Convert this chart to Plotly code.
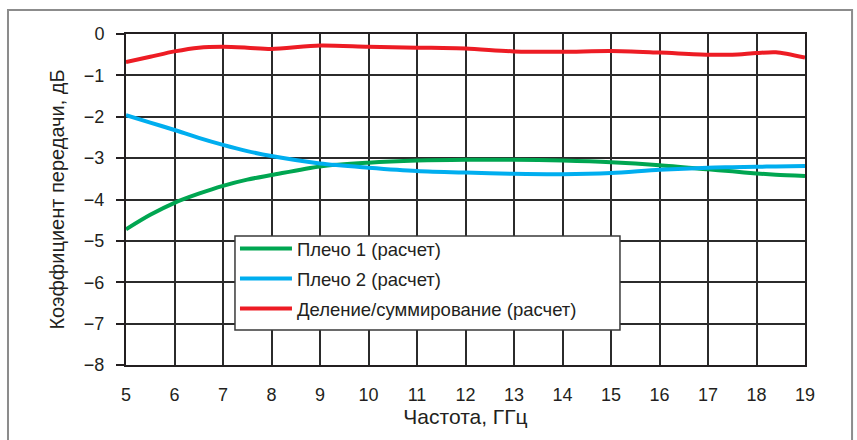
import plotly.graph_objects as go

freq = [5, 5.5, 6, 6.5, 7, 7.5, 8, 9, 10, 11, 12, 13, 14, 15, 16, 17, 17.5, 18, 18.4, 19]
arm1 = [-4.72, -4.37, -4.08, -3.86, -3.67, -3.52, -3.41, -3.20, -3.11, -3.06, -3.04, -3.04, -3.06, -3.10, -3.17, -3.27, -3.32, -3.37, -3.40, -3.43]
arm2 = [-1.96, -2.14, -2.32, -2.51, -2.68, -2.83, -2.95, -3.13, -3.23, -3.31, -3.35, -3.38, -3.39, -3.36, -3.28, -3.23, -3.22, -3.21, -3.20, -3.19]
divsum = [-0.68, -0.55, -0.42, -0.33, -0.31, -0.33, -0.36, -0.28, -0.31, -0.33, -0.35, -0.42, -0.43, -0.41, -0.45, -0.50, -0.50, -0.46, -0.44, -0.57]

names = ["Плечо 1 (расчет)", "Плечо 2 (расчет)", "Деление/суммирование (расчет)"]
colors = ["#00A651", "#00AEEF", "#ED1C24"]

x_ticks = list(range(5, 20))
y_ticks = list(range(-8, 1))

fig = go.Figure()
for i, (ys, nm, c) in enumerate(zip([arm1, arm2, divsum], names, colors)):
    fig.add_trace(go.Scatter(x=freq, y=ys, name=nm, mode="lines", legendgroup=f"g{i}",
                             line=dict(color=c, width=4, shape="spline", smoothing=0.8)))

font = "Liberation Sans, Arial, sans-serif"
fig.update_layout(
    width=857, height=440,
    margin=dict(l=126, r=52, t=34, b=75, autoexpand=False),
    paper_bgcolor="white", plot_bgcolor="white",
    font=dict(family=font, size=18, color="#231F20"),
    showlegend=True,
    legend=dict(x=0.1605, y=0.408, xanchor="left", yanchor="top",
                bgcolor="rgba(0,0,0,0)", borderwidth=0, bordercolor="rgba(0,0,0,0)",
                font=dict(size=18.5, family=font, color="#231F20"),
                itemwidth=52, tracegroupgap=3),
    shapes=[
        dict(type="rect", xref="paper", yref="paper",
             x0=-0.1738, x1=1.0693, y0=-0.25, y1=1.0725,
             line=dict(color="#8c8c8c", width=2), layer="below"),
        dict(type="rect", xref="paper", yref="paper",
             x0=0.1605, x1=0.7275, y0=0.1057, y1=0.3897,
             fillcolor="white", line=dict(color="#3a3a3a", width=1.5), layer="above"),
    ],
)
fig.update_xaxes(range=[5, 19], tickvals=x_ticks, showgrid=True, gridcolor="#2b2b2b", gridwidth=1.5,
                 showline=True, linecolor="#231F20", linewidth=2, mirror=True,
                 ticks="outside", ticklen=12, tickcolor="rgba(0,0,0,0)", automargin=False,
                 title=dict(text="Частота, ГГц", font=dict(size=21), standoff=0),
                 zeroline=False)
fig.update_yaxes(range=[-8, 0], tickvals=y_ticks, showgrid=True, gridcolor="#2b2b2b", gridwidth=1.5,
                 showline=True, linecolor="#231F20", linewidth=2, mirror=True,
                 ticks="outside", ticklen=8, tickcolor="#231F20", tickwidth=1.5,
                 ticklabelstandoff=8, automargin=False,
                 title=dict(text="Коэффициент передачи, дБ", font=dict(size=20), standoff=14),
                 zeroline=False)

fig.write_html("out.html", config={"displayModeBar": False},
               post_script="document.body.style.margin='0';")
